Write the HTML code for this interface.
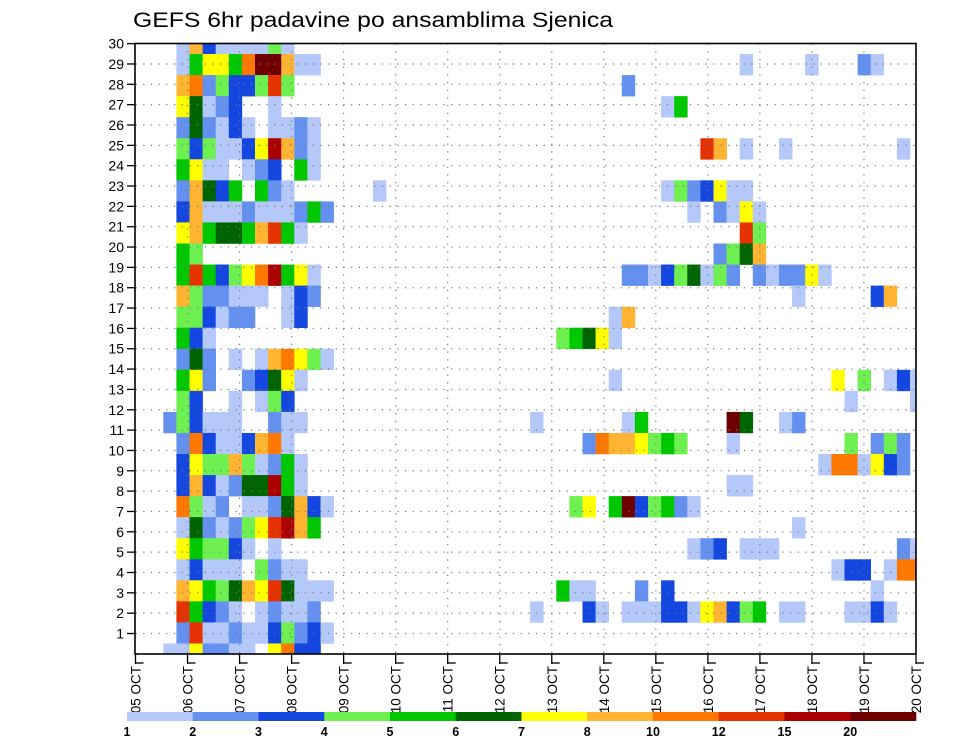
<!DOCTYPE html>
<html><head><meta charset="utf-8"><title>GEFS 6hr padavine po ansamblima Sjenica</title>
<style>
html,body{margin:0;padding:0;background:#fff;}
svg{display:block;font-family:"Liberation Sans",sans-serif;}
</style></head>
<body>
<svg id="chart" width="960" height="742" viewBox="0 0 960 742" xmlns="http://www.w3.org/2000/svg">
<rect width="960" height="742" fill="#fff"/>
<text x="133" y="27" font-size="21" textLength="480" lengthAdjust="spacingAndGlyphs" fill="#000">GEFS 6hr padavine po ansamblima Sjenica</text>
<defs><clipPath id="plotclip"><rect x="135" y="43.5" width="781" height="610.5"/></clipPath></defs>
<g id="cells" clip-path="url(#plotclip)"></g>
<g id="grid"></g>
<rect x="135" y="43.5" width="781" height="610.5" fill="none" stroke="#000" stroke-width="1.6"/>
<g id="yaxis"></g>
<g id="xaxis"></g>
<g id="legend"></g>
</svg>
<script>
// Colour category codes: '.' none, 1..9, A, B, C
const legendLabels = ["1","2","3","4","5","6","7","8","10","12","15","20"];
const legendColors = ["#b4c8fa","#6490f0","#1446e0","#6ef050","#00c800","#006400","#ffff00","#ffb432","#ff7800","#e63200","#aa0000","#6e0000"];
const codeKeys = ["1","2","3","4","5","6","7","8","9","A","B","C"];
const dayLabels = ["05 OCT","06 OCT","07 OCT","08 OCT","09 OCT","10 OCT","11 OCT","12 OCT","13 OCT","14 OCT","15 OCT","16 OCT","17 OCT","18 OCT","19 OCT","20 OCT"];
const memberTicks = [1,2,3,4,5,6,7,8,9,10,11,12,13,14,15,16,17,18,19,20,21,22,23,24,25,26,27,28,29,30];
// Early block per ensemble band (top to bottom), starting at time step 0
const leftBlock = [
".183111141",
".157759CC811",
".8924334A4",
".76123..1",
".262131.1121",
".4341137B821",
".5711.123.51",
".28635.521......1",
".381112111252",
".7856658A51",
".54",
".5A53479B571",
".8422111.132",
".443122..13",
".531",
".262.1.189741",
".572..23671",
".43..1.143",
"243111..211",
".293113891",
".3744841251",
".3831266B51",
".9412.1126831",
".1621247AB85",
".754431.1",
".13111.4211",
".8754687A6111",
".A5321.12112",
".2A1121134231",
"1172211.7933"
];
// Later cells: [band, timeStep, code]
const lateCells = [
[1,44,"1"],[1,49,"1"],[1,53,"2"],[1,54,"1"],
[2,35,"2"],
[3,38,"1"],[3,39,"5"],
[5,41,"A"],[5,42,"8"],[5,44,"1"],[5,47,"1"],[5,56,"1"],
[7,38,"1"],[7,39,"4"],[7,40,"2"],[7,41,"3"],[7,42,"7"],[7,43,"1"],[7,44,"1"],
[8,40,"1"],[8,42,"2"],[8,43,"1"],[8,44,"7"],[8,45,"1"],
[9,44,"A"],[9,45,"4"],
[10,42,"2"],[10,43,"4"],[10,44,"6"],[10,45,"8"],
[11,35,"2"],[11,36,"2"],[11,37,"1"],[11,38,"3"],[11,39,"4"],[11,40,"6"],[11,41,"1"],[11,42,"4"],[11,43,"2"],[11,45,"2"],[11,46,"1"],[11,47,"2"],[11,48,"2"],[11,49,"7"],[11,50,"1"],
[12,48,"1"],[12,54,"3"],[12,55,"8"],
[13,34,"1"],[13,35,"8"],
[14,30,"4"],[14,31,"5"],[14,32,"6"],[14,33,"7"],[14,34,"1"],
[16,34,"1"],[16,51,"7"],[16,53,"4"],[16,55,"1"],[16,56,"3"],[16,57,"1"],
[17,52,"1"],[17,57,"1"],
[18,28,"1"],[18,35,"1"],[18,36,"5"],[18,43,"C"],[18,44,"6"],[18,47,"1"],[18,48,"2"],
[19,32,"2"],[19,33,"9"],[19,34,"8"],[19,35,"8"],[19,36,"7"],[19,37,"4"],[19,38,"5"],[19,39,"4"],[19,43,"1"],[19,52,"4"],[19,54,"2"],[19,55,"4"],[19,56,"2"],
[20,50,"1"],[20,51,"9"],[20,52,"9"],[20,53,"1"],[20,54,"7"],[20,55,"3"],[20,56,"2"],
[21,43,"1"],[21,44,"1"],
[22,31,"4"],[22,32,"7"],[22,34,"5"],[22,35,"C"],[22,36,"3"],[22,37,"4"],[22,38,"5"],[22,39,"2"],[22,40,"1"],
[23,48,"1"],
[24,40,"1"],[24,41,"2"],[24,42,"3"],[24,44,"1"],[24,45,"1"],[24,46,"1"],[24,56,"2"],[24,57,"1"],
[25,51,"1"],[25,52,"3"],[25,53,"3"],[25,55,"1"],[25,56,"9"],[25,57,"9"],
[26,30,"5"],[26,31,"1"],[26,32,"1"],[26,36,"2"],[26,38,"3"],[26,54,"1"],
[27,28,"1"],[27,32,"3"],[27,33,"1"],[27,35,"1"],[27,36,"1"],[27,37,"1"],[27,38,"3"],[27,39,"3"],[27,40,"1"],[27,41,"7"],[27,42,"8"],[27,43,"3"],[27,44,"4"],[27,45,"5"],[27,47,"1"],[27,48,"1"],[27,52,"1"],[27,53,"1"],[27,54,"3"],[27,55,"1"]
];

const NS = "http://www.w3.org/2000/svg";
const PX0 = 135.5, PX1 = 916, PY0 = 43.5, PY1 = 654;
const dayW = (PX1 - PX0) / 15;
function xStep(c){ return 163.3 + c * 13.1; }
const stepW = 13.1;
function yBand(t){ return PY0 + t * ((PY1 - PY0) / 29); }
const bandH = (PY1 - PY0) / 29;
function yTick(m){ return 633.5 - (m - 1) * 20.34; }
function xDay(d){ return PX0 + d * dayW; }
function colorOf(code){ return legendColors[codeKeys.indexOf(code)]; }
function mk(tag, attrs, parent){ const e = document.createElementNS(NS, tag); for (const k in attrs) e.setAttribute(k, attrs[k]); parent.appendChild(e); return e; }

const cellsG = document.getElementById("cells");
function drawCell(t, c, code){
  if (code === ".") return;
  const r = mk("rect", {x: xStep(c).toFixed(2), y: (yBand(t) - bandH/2).toFixed(2), width: stepW + 0.3, height: bandH + 0.3, fill: colorOf(code)}, cellsG);
  
  
}
leftBlock.forEach((s, t) => { for (let c = 0; c < s.length; c++) drawCell(t, c, s[c]); });
lateCells.forEach(([t, c, code]) => drawCell(t, c, code));

// grid
const grid = document.getElementById("grid");
memberTicks.forEach(m => {
  const y = yTick(m);
  if (m < 30) mk("line", {x1: PX0, x2: PX1, y1: y, y2: y, stroke: "#777", "stroke-width": 1.2, "stroke-dasharray": "1.2,6.5"}, grid);
});
for (let d = 1; d < 15; d++) {
  const x = xDay(d);
  mk("line", {x1: x, x2: x, y1: PY0, y2: PY1, stroke: "#777", "stroke-width": 1.2, "stroke-dasharray": "1.2,6.5"}, grid);
}

// y axis
const yax = document.getElementById("yaxis");
memberTicks.forEach(m => {
  const y = yTick(m);
  mk("line", {x1: 127, x2: 135, y1: y, y2: y, stroke: "#000", "stroke-width": 1.3}, yax);
  const t = mk("text", {x: 124, y: y + 5, "font-size": 14, "text-anchor": "end", fill: "#000"}, yax);
  t.textContent = String(m);
  
  
});

// x axis
const xax = document.getElementById("xaxis");
dayLabels.forEach((lab, d) => {
  const x = xDay(d);
  mk("line", {x1: x, x2: x, y1: PY1, y2: 664, stroke: "#000", "stroke-width": 1.3}, xax);
  mk("line", {x1: x, x2: x + 8, y1: 663, y2: 663, stroke: "#000", "stroke-width": 1.3}, xax);
  const t = mk("text", {x: 0, y: 0, "font-size": 13.5, "text-anchor": "end", fill: "#000", transform: `translate(${x + 5},${666}) rotate(-90)`}, xax);
  t.textContent = lab;
  
  
});

// legend
const leg = document.getElementById("legend");
const LX0 = 127, LX1 = 916, segW = (LX1 - LX0) / legendColors.length;
legendColors.forEach((col, i) => {
  const r = mk("rect", {x: LX0 + i * segW, y: 712, width: segW + 0.3, height: 9, fill: col}, leg);
  
  
});
legendLabels.forEach((lab, i) => {
  const t = mk("text", {x: LX0 + i * segW, y: 736, "font-size": 12.5, "font-weight": "bold", "text-anchor": "middle", fill: "#000"}, leg);
  t.textContent = lab;
  
  
});
</script>
</body></html>
